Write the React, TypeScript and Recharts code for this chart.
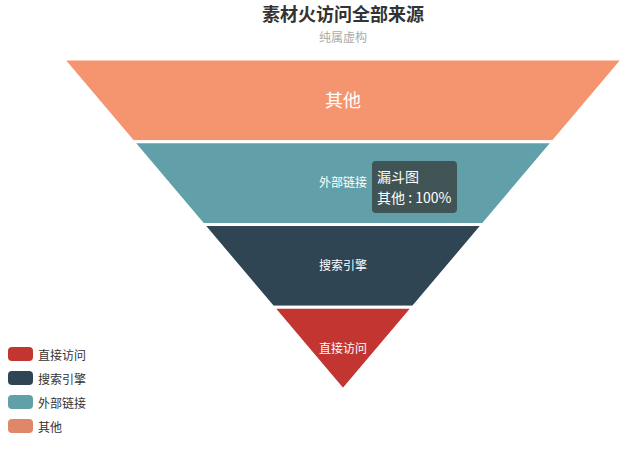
import { Cell, Funnel, FunnelChart, LabelList } from "recharts";

const CATEGORIES = ["其他", "外部链接", "搜索引擎", "直接访问"];
const VALUES = [100, 75, 50, 25];
const FILLS = ["#f4956f", "#61a0a8", "#2f4554", "#c23531"];

const LEGEND_NAMES = ["直接访问", "搜索引擎", "外部链接", "其他"];
const LEGEND_COLORS = ["#c23531", "#2f4554", "#61a0a8", "#df8769"];

const FONT = '"Noto Sans CJK SC", "Noto Sans", sans-serif';

const data = CATEGORIES.map((name, i) => ({
  name,
  value: VALUES[i],
  small: i === 0 ? "" : name,
  big: i === 0 ? name : "",
}));

export default function App() {
  return (
    <div
      style={{
        position: "absolute",
        left: 0,
        top: 0,
        width: 627,
        height: 449,
        overflow: "hidden",
        background: "#fff",
        fontFamily: FONT,
      }}
    >
      {/* Title */}
      <div style={{ position: "absolute", left: 243, width: 200, top: 2, textAlign: "center", fontSize: 18, fontWeight: "bold", color: "#333", lineHeight: "22px" }}>
        素材火访问全部来源
      </div>
      <div style={{ position: "absolute", left: 243, width: 200, top: 29, textAlign: "center", fontSize: 12, color: "#aaa", lineHeight: "16px" }}>
        纯属虚构
      </div>

      {/* Funnel */}
      <div style={{ position: "absolute", left: 63, top: 59 }}>
        <FunnelChart width={560} height={331} margin={{ top: 0, right: 0, bottom: 0, left: 0 }}>
          <Funnel
            data={data}
            dataKey="value"
            nameKey="name"
            lastShapeType="triangle"
            stroke="#fff"
            strokeWidth={3}
            isAnimationActive={false}
          >
            {data.map((d, i) => (
              <Cell key={d.name} fill={FILLS[i]} />
            ))}
            <LabelList dataKey="small" position="center" fill="#fff" stroke="none" fontSize={12} fontFamily={FONT} />
            <LabelList dataKey="big" position="center" fill="#fff" stroke="none" fontSize={18} fontFamily={FONT} />
          </Funnel>
        </FunnelChart>
      </div>

      {/* Tooltip */}
      <div
        style={{
          position: "absolute",
          left: 372,
          top: 161,
          width: 75,
          padding: "5px",
          borderRadius: 4,
          background: "rgba(50,50,50,0.7)",
          color: "#fff",
          fontSize: 14,
          lineHeight: "21px",
        }}
      >
        漏斗图
        <br />
        其他 : 100%
      </div>

      {/* Legend */}
      <div style={{ position: "absolute", left: 8, top: 342 }}>
        {LEGEND_NAMES.map((name, i) => (
          <div key={name} style={{ display: "flex", alignItems: "center", height: 24 }}>
            <span style={{ width: 25, height: 14, borderRadius: 4, background: LEGEND_COLORS[i], marginRight: 5 }} />
            <span style={{ fontSize: 12, color: "#333" }}>{name}</span>
          </div>
        ))}
      </div>
    </div>
  );
}
